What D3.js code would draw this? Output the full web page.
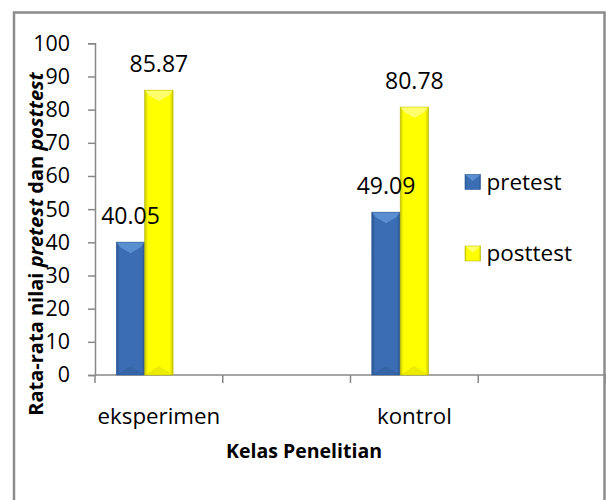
<!DOCTYPE html>
<html>
<head>
<meta charset="utf-8">
<script src="https://cdn.jsdelivr.net/npm/d3@7"></script>
<style>
  html, body { margin: 0; padding: 0; background: #fff; }
  svg { display: block; font-family: "Open Sans", "Noto Sans", sans-serif; }
</style>
</head>
<body>
<svg id="chart" width="606" height="500"></svg>
<script>
// ---- data ----
const categories = ["eksperimen", " ", "kontrol", "  "];
const seriesNames = ["pretest", "posttest"];
const pretestValues = [40.05, null, 49.09, null];
const posttestValues = [85.87, null, 80.78, null];
const yTicks = [0, 10, 20, 30, 40, 50, 60, 70, 80, 90, 100];
const yTitleParts = [
  { t: "Rata-rata nilai ", i: false },
  { t: "pretest", i: true },
  { t: " dan ", i: false },
  { t: "posttest", i: true }
];
const xTitle = "Kelas Penelitian";

// ---- styles ----
const colors = {
  pretest: { base: "#3a6db3", light: "#5f95d6", dark: "#2a5590", edge: "#2c5a98" },
  posttest: { base: "#ffff00", light: "#ffff80", dark: "#c9c900", edge: "#b8b800" }
};
const axisColor = "#888888";

const svg = d3.select("#chart");
const defs = svg.append("defs");
seriesNames.forEach(s => {
  const c = colors[s];
  const g = defs.append("linearGradient").attr("id", "g-" + s)
    .attr("x1", "0").attr("x2", "1").attr("y1", "0").attr("y2", "0");
  g.append("stop").attr("offset", "0").attr("stop-color", c.dark);
  g.append("stop").attr("offset", "0.12").attr("stop-color", c.base);
  g.append("stop").attr("offset", "0.88").attr("stop-color", c.base);
  g.append("stop").attr("offset", "1").attr("stop-color", c.dark);
});

// outer border
svg.append("rect")
  .attr("x", 14).attr("y", 12.5).attr("width", 590.5).attr("height", 520)
  .attr("fill", "none").attr("stroke", "#8c8c8c").attr("stroke-width", 2.5);

const plot = { left: 95, right: 606, top: 43.3, bottom: 375 };

const y = d3.scaleLinear().domain([0, 100]).range([plot.bottom, plot.top]);
const x0 = d3.scaleBand().domain(categories).range([plot.left, plot.right]).padding(0);
const x1 = d3.scaleBand().domain(seriesNames).range([0, x0.bandwidth()])
  .paddingInner(0).paddingOuter(1.25).align(0.3);

// y axis
const yAxis = svg.append("g").attr("transform", `translate(${plot.left},0)`)
  .call(d3.axisLeft(y).tickValues(yTicks).tickSize(7).tickSizeOuter(7).tickPadding(18));
yAxis.select(".domain").attr("stroke", axisColor).attr("stroke-width", 1.5);
yAxis.selectAll(".tick line").attr("stroke", axisColor).attr("stroke-width", 1.5);
yAxis.selectAll(".tick text").attr("fill", "#000").style("font-size", "21.4px")
  .style("font-family", "'Open Sans', sans-serif");

// x axis: line + boundary ticks
const xAxisG = svg.append("g");
xAxisG.append("line")
  .attr("x1", plot.left).attr("x2", plot.right)
  .attr("y1", plot.bottom).attr("y2", plot.bottom)
  .attr("stroke", axisColor).attr("stroke-width", 1.5);
const boundaries = categories.map(c => x0(c)).concat([x0.range()[1]]);
xAxisG.selectAll("line.bt").data(boundaries).join("line").attr("class", "bt")
  .attr("x1", d => d).attr("x2", d => d)
  .attr("y1", plot.bottom).attr("y2", plot.bottom + 8)
  .attr("stroke", axisColor).attr("stroke-width", 1.5);
// category labels
const xLab = svg.append("g").attr("transform", `translate(0,${plot.bottom})`)
  .call(d3.axisBottom(x0).tickSize(0).tickPadding(0));
xLab.select(".domain").remove();
xLab.selectAll(".tick text").attr("fill", "#000").attr("dy", null).attr("y", 49)
  .style("font-size", "22.3px").style("font-family", "'Open Sans', sans-serif");

// bars
const rows = categories.map((c, i) => ({
  cat: c,
  vals: [
    { s: "pretest", v: pretestValues[i] },
    { s: "posttest", v: posttestValues[i] }
  ].filter(d => d.v != null)
}));
const barLayer = svg.append("g");
const labelLayer = svg.append("g");
const groups = barLayer.selectAll("g").data(rows).join("g")
  .attr("transform", d => `translate(${x0(d.cat)},0)`);
const bars = groups.selectAll("g.bar").data(d => d.vals).join("g").attr("class", "bar");
const bw = x1.bandwidth();
bars.append("rect")
  .attr("x", d => x1(d.s)).attr("y", d => y(d.v))
  .attr("width", bw).attr("height", d => y(0) - y(d.v))
  .attr("fill", d => `url(#g-${d.s})`)
  .attr("stroke", d => colors[d.s].edge).attr("stroke-width", 0.6);
// top bevel
bars.append("path")
  .attr("d", d => {
    const xl = x1(d.s), yt = y(d.v);
    return `M${xl + 0.5},${yt + 0.5} L${xl + bw - 0.5},${yt + 0.5} L${xl + bw - 4},${yt + 5} L${xl + bw / 2},${yt + 11} L${xl + 4},${yt + 5} Z`;
  })
  .attr("fill", d => colors[d.s].light).attr("opacity", 0.85);
// bottom bevel
bars.append("path")
  .attr("d", d => {
    const xl = x1(d.s), yb = y(0);
    return `M${xl + 0.5},${yb - 0.5} L${xl + bw - 0.5},${yb - 0.5} L${xl + bw / 2},${yb - 9} Z`;
  })
  .attr("fill", d => colors[d.s].dark).attr("opacity", 0.35);
// data labels (drawn above all bars)
const labelGroups = labelLayer.selectAll("g").data(rows).join("g")
  .attr("transform", d => `translate(${x0(d.cat)},0)`);
labelGroups.selectAll("text").data(d => d.vals).join("text")
  .attr("x", d => x1(d.s) + bw / 2).attr("y", d => y(d.v) - 18)
  .attr("text-anchor", "middle").attr("fill", "#000")
  .style("font-size", "23px")
  .text(d => d.v.toFixed(2));

// legend
const legend = svg.append("g");
const legendY = { pretest: 182, posttest: 253.5 };
seriesNames.forEach(s => {
  const g = legend.append("g").attr("transform", `translate(465,${legendY[s]})`);
  g.append("rect").attr("x", 0).attr("y", -7.5).attr("width", 15.5).attr("height", 15)
    .attr("fill", `url(#g-${s})`).attr("stroke", colors[s].edge).attr("stroke-width", 0.6);
  g.append("path").attr("d", "M0.5,-7 L15,-7 L7.75,-1 Z").attr("fill", colors[s].light).attr("opacity", 0.85);
  g.append("text").attr("x", 21.5).attr("y", 0).attr("dy", "0.35em")
    .attr("fill", "#000").style("font-size", "22.5px").text(s);
});

// y title
const yt = svg.append("text")
  .attr("transform", "translate(43,244) rotate(-90)")
  .attr("text-anchor", "middle").attr("fill", "#000")
  .style("font-size", "20px").style("font-weight", "bold");
yt.selectAll("tspan").data(yTitleParts).join("tspan")
  .style("font-style", d => d.i ? "italic" : "normal")
  .text(d => d.t);

// x title
svg.append("text").attr("x", 226).attr("y", 458)
  .attr("fill", "#000").style("font-size", "19.5px").style("font-weight", "bold")
  .text(xTitle);
</script>
</body>
</html>
